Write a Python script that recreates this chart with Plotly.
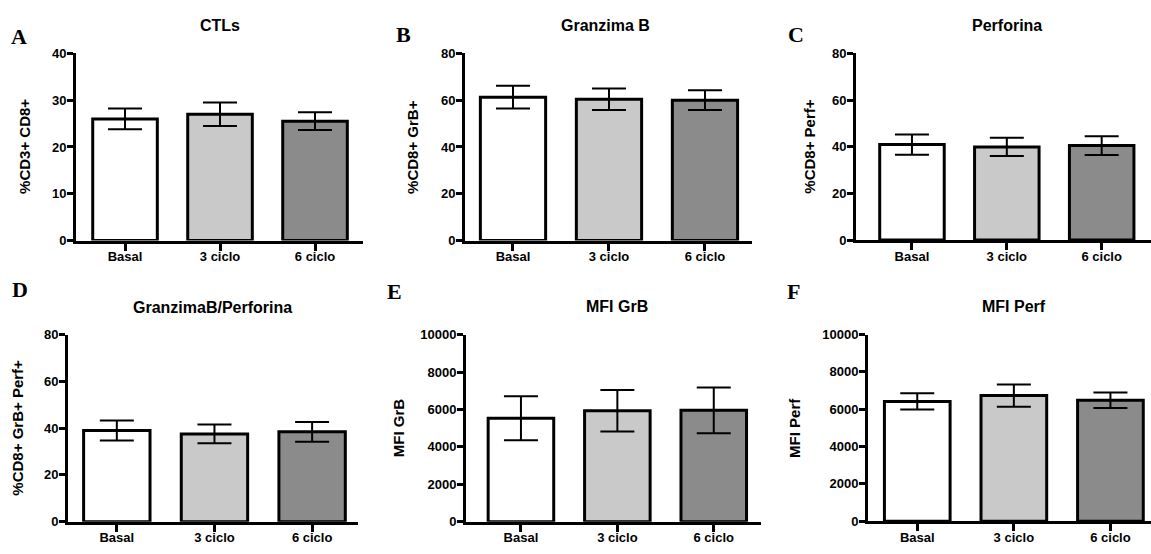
import plotly.graph_objects as go

W, H = 1151, 554

categories = ["Basal", "3 ciclo", "6 ciclo"]

ctl_mean = [26.0, 27.0, 25.5]
ctl_sem = [2.2, 2.5, 1.9]

grb_mean = [61.3, 60.4, 60.0]
grb_sem = [4.9, 4.6, 4.2]

perf_mean = [40.9, 39.9, 40.5]
perf_sem = [4.3, 3.9, 4.0]

grbperf_mean = [39.0, 37.5, 38.4]
grbperf_sem = [4.3, 4.0, 4.2]

mfigrb_mean = [5530, 5930, 5950]
mfigrb_sem = [1180, 1110, 1220]

mfiperf_mean = [6420, 6730, 6480]
mfiperf_sem = [440, 600, 420]

titles = ["CTLs", "Granzima B", "Perforina", "GranzimaB/Perforina", "MFI GrB", "MFI Perf"]
letters = ["A", "B", "C", "D", "E", "F"]
ytitles = ["%CD3+ CD8+", "%CD8+ GrB+", "%CD8+ Perf+", "%CD8+ GrB+ Perf+", "MFI GrB", "MFI Perf"]
yranges = [40, 80, 80, 80, 10000, 10000]
ydticks = [10, 20, 20, 20, 2000, 2000]

means = [ctl_mean, grb_mean, perf_mean, grbperf_mean, mfigrb_mean, mfiperf_mean]
sems = [ctl_sem, grb_sem, perf_sem, grbperf_sem, mfigrb_sem, mfiperf_sem]

bar_colors = ["#ffffff", "#c9c9c9", "#8b8b8b"]

# layout geometry (pixels)
geo = [
    dict(x0=76, x1=363, top=47.7, bot=240, xr=[-0.516, 2.505], title=(220, 19), letter=(19, 30), yt=25),
    dict(x0=465, x1=752, top=47.7, bot=240, xr=[-0.5, 2.49], title=(605, 19), letter=(403, 28), yt=413),
    dict(x0=856, x1=1151, top=47.7, bot=239.5, xr=[-0.59, 2.52], title=(1007, 19), letter=(796, 28), yt=810),
    dict(x0=68, x1=358, top=336.7, bot=529, xr=[-0.5, 2.47], title=(212.5, 308.5), letter=(20, 290), yt=17.5),
    dict(x0=466, x1=761, top=336.7, bot=529, xr=[-0.57, 2.49], title=(617, 308), letter=(394, 292), yt=398),
    dict(x0=868, x1=1151, top=336.7, bot=528.5, xr=[-0.51, 2.42], title=(1014, 308), letter=(793, 292), yt=795),
]

fig = go.Figure()
ann = []
tickfont = dict(family="Liberation Sans, Arial", size=13, color="black", weight="bold")

for i in range(6):
    g = geo[i]
    sfx = "" if i == 0 else str(i + 1)
    fig.add_trace(go.Bar(
        x=categories, y=means[i],
        xaxis="x" + sfx, yaxis="y" + sfx,
        width=0.68,
        marker=dict(color=bar_colors, line=dict(color="black", width=3)),
        error_y=dict(type="data", array=sems[i], visible=True,
                     color="black", thickness=2, width=17),
        showlegend=False,
    ))
    fig.layout["xaxis" + sfx] = dict(
        domain=[g["x0"] / W, min(g["x1"] / W, 1)],
        anchor="y" + sfx, range=g["xr"], type="category",
        showline=True, linewidth=3, linecolor="black",
        ticks="outside", ticklen=7, tickwidth=3, tickcolor="black",
        tickfont=tickfont, ticklabelstandoff=-5,
        showgrid=False, zeroline=False, fixedrange=True,
    )
    fig.layout["yaxis" + sfx] = dict(
        domain=[1 - g["bot"] / H, 1 - g["top"] / H],
        anchor="x" + sfx, range=[0, yranges[i]], dtick=ydticks[i], tickformat="d",
        showline=True, linewidth=3, linecolor="black",
        ticks="outside", ticklen=6, tickwidth=2.5, tickcolor="black",
        tickfont=tickfont, ticklabelstandoff=-2,
        showgrid=False, zeroline=False,
    )
    ann.append(dict(text="<b>" + titles[i] + "</b>", x=g["title"][0] / W, y=1 - g["title"][1] / H,
                    xref="paper", yref="paper", showarrow=False, xanchor="center", yanchor="middle",
                    font=dict(family="Liberation Sans, Arial", size=16, color="black")))
    ann.append(dict(text="<b>" + letters[i] + "</b>", x=g["letter"][0] / W, y=1 - g["letter"][1] / H,
                    xref="paper", yref="paper", showarrow=False, xanchor="center", yanchor="middle",
                    font=dict(family="Liberation Serif, Times New Roman", size=22, color="black")))
    ann.append(dict(text="<b>" + ytitles[i] + "</b>", x=g["yt"] / W,
                    y=1 - (g["top"] + g["bot"]) / 2 / H,
                    xref="paper", yref="paper", showarrow=False, xanchor="center", yanchor="middle",
                    textangle=-90,
                    font=dict(family="Liberation Sans, Arial", size=15, color="black")))

fig.update_layout(
    width=W, height=H, margin=dict(l=0, r=0, t=0, b=0),
    paper_bgcolor="white", plot_bgcolor="white",
    annotations=ann,
)

fig.write_html("out.html")
